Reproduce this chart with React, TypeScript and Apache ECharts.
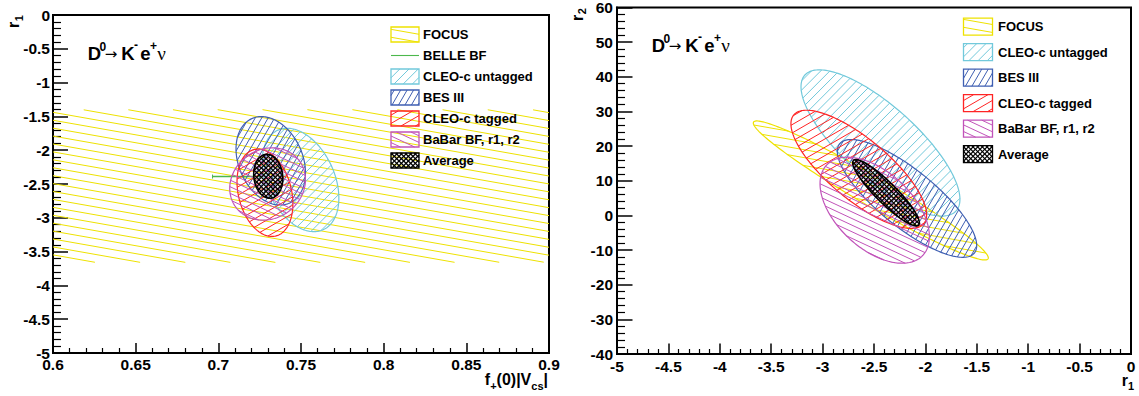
import React, { useEffect, useRef } from 'react';
import * as echarts from 'echarts';

// ---------------- DATA ----------------
// Left panel: f+(0)|Vcs| (x) vs r1 (y); 1-sigma contours: centre, sigma_x, sigma_y, correlation
const leftNames = ['FOCUS', 'CLEO-c untagged', 'BES III', 'CLEO-c tagged', 'BaBar BF, r1, r2', 'Average'];
const leftCx = [0.75, 0.7497, 0.7317, 0.7282, 0.7298, 0.7302];
const leftCy = [-2.53, -2.44, -2.157, -2.63, -2.5, -2.386];
const leftSx = [2.0, 0.0232, 0.021, 0.0169, 0.0229, 0.0088];
const leftSy = [1.13, 0.765, 0.654, 0.646, 0.535, 0.325];
const leftRho = [0, -0.35, -0.27, -0.25, 0.12, -0.1];
// BELLE BF: horizontal bar in f+(0)|Vcs|
const belleF = [0.6965, 0.727];
const belleR1 = [-2.39, -2.39];

// Right panel: r1 (x) vs r2 (y)
const rightNames = ['FOCUS', 'CLEO-c untagged', 'BES III', 'CLEO-c tagged', 'BaBar BF, r1, r2', 'Average'];
const rightCx = [-2.531, -2.437, -2.179, -2.648, -2.493, -2.383];
const rightCy = [7.2, 20.9, 4.9, 13.3, 1.5, 6.54];
const rightSx = [1.143, 0.773, 0.678, 0.66, 0.532, 0.324];
const rightSy = [20.06, 21.1, 17.0, 17.05, 15.3, 9.57];
const rightRho = [-0.97, -0.77, -0.8, -0.77, -0.5, -0.905];

const leftLegend = ['FOCUS', 'BELLE BF', 'CLEO-c untagged', 'BES III', 'CLEO-c tagged', 'BaBar BF, r1, r2', 'Average'];
const rightLegend = ['FOCUS', 'CLEO-c untagged', 'BES III', 'CLEO-c tagged', 'BaBar BF, r1, r2', 'Average'];

// axis ranges / tick steps
const leftX = { min: 0.6, max: 0.9, step: 0.05 };
const leftY = { min: -5, max: 0, step: 0.5 };
const rightX = { min: -5, max: 0, step: 0.5 };
const rightY = { min: -40, max: 60, step: 10 };

// ---------------- STYLES ----------------
type HS = { color: string; angles: number[]; spacing: number; lw: number; border: number };
const HATCH: Record<string, HS> = {
  'FOCUS': { color: '#eee200', angles: [-10], spacing: 7.8, lw: 1, border: 1.2 },
  'CLEO-c untagged': { color: '#72c9db', angles: [45], spacing: 6.5, lw: 1, border: 1.2 },
  'BES III': { color: '#3f5fb2', angles: [60], spacing: 5.6, lw: 1, border: 1.2 },
  'CLEO-c tagged': { color: '#ff2424', angles: [30], spacing: 7.2, lw: 1, border: 1.2 },
  'BaBar BF, r1, r2': { color: '#c153b9', angles: [-25], spacing: 6, lw: 1, border: 1.2 },
  'Average': { color: '#000000', angles: [45, -45], spacing: 3.3, lw: 1.2, border: 1.6 },
};
const GREEN = '#4cb84c';
const FONT = '"Liberation Sans", Arial, Helvetica, sans-serif';

function hatchLines(pts: number[][], angleDeg: number, spacing: number): number[][] {
  const a = (angleDeg * Math.PI) / 180;
  const d = [Math.cos(a), -Math.sin(a)];
  const n = [Math.sin(a), Math.cos(a)];
  const proj = pts.map((p) => p[0] * n[0] + p[1] * n[1]);
  let mn = Infinity;
  let mx = -Infinity;
  proj.forEach((v) => {
    mn = Math.min(mn, v);
    mx = Math.max(mx, v);
  });
  const out: number[][] = [];
  const N = pts.length;
  for (let k = Math.ceil(mn / spacing); k <= Math.floor(mx / spacing); k++) {
    const c = k * spacing;
    const hits: number[][] = [];
    for (let i = 0; i < N; i++) {
      const j = (i + 1) % N;
      const a1 = proj[i] - c;
      const b1 = proj[j] - c;
      if ((a1 <= 0 && b1 > 0) || (a1 > 0 && b1 <= 0)) {
        const t = a1 / (a1 - b1);
        hits.push([pts[i][0] + t * (pts[j][0] - pts[i][0]), pts[i][1] + t * (pts[j][1] - pts[i][1])]);
      }
    }
    if (hits.length >= 2) {
      hits.sort((p, q) => p[0] * d[0] + p[1] * d[1] - (q[0] * d[0] + q[1] * d[1]));
      const p = hits[0];
      const q = hits[hits.length - 1];
      out.push([p[0], p[1], q[0], q[1]]);
    }
  }
  return out;
}

function hatchEls(pts: number[][], st: HS) {
  const els: any[] = [];
  st.angles.forEach((ang) => {
    hatchLines(pts, ang, st.spacing).forEach((s) => {
      els.push({
        type: 'line',
        shape: { x1: s[0], y1: s[1], x2: s[2], y2: s[3] },
        style: { stroke: st.color, lineWidth: st.lw },
      });
    });
  });
  return els;
}

function makeEllipseRender(name: string, drawBorder: boolean) {
  const st = HATCH[name];
  return (_params: any, api: any) => {
    const cx = api.value(0);
    const cy = api.value(1);
    const sx = api.value(2);
    const sy = api.value(3);
    const rho = api.value(4);
    const k = Math.sqrt(1 - rho * rho);
    const pts: number[][] = [];
    const N = 200;
    for (let i = 0; i < N; i++) {
      const t = (2 * Math.PI * i) / N;
      pts.push(api.coord([cx + sx * Math.cos(t), cy + sy * (rho * Math.cos(t) + k * Math.sin(t))]));
    }
    const children = hatchEls(pts, st);
    if (drawBorder) {
      children.push({
        type: 'polygon',
        shape: { points: pts },
        style: { fill: 'none', stroke: st.color, lineWidth: st.border },
      });
    }
    return { type: 'group', children };
  };
}

function ellipseSeries(
  names: string[], cx: number[], cy: number[], sx: number[], sy: number[], rho: number[],
  axis: number, noBorder: number[],
) {
  return names.map((nm, i) => ({
    type: 'custom',
    name: nm,
    xAxisIndex: axis,
    yAxisIndex: axis,
    clip: true,
    silent: true,
    z: 2 + i,
    data: [[cx[i], cy[i], sx[i], sy[i], rho[i]]],
    encode: { x: 0, y: 1 },
    renderItem: makeEllipseRender(nm, noBorder.indexOf(i) < 0),
  }));
}

function axisCommon(r: { min: number; max: number; step: number }, grid: number, tickLen: number, minorLen: number, margin: number) {
  return {
    type: 'value',
    gridIndex: grid,
    min: r.min,
    max: r.max,
    interval: r.step,
    axisLine: { show: true, onZero: false, lineStyle: { color: '#000', width: 2 } },
    axisTick: { show: true, inside: true, length: tickLen, lineStyle: { color: '#000', width: 1.5 } },
    minorTick: { show: true, splitNumber: 5, length: minorLen, lineStyle: { color: '#000', width: 1.2 } },
    splitLine: { show: false },
    minorSplitLine: { show: false },
    axisLabel: { color: '#000', fontSize: 15.5, fontWeight: 'bold', fontFamily: FONT, margin },
  };
}

let measureCtx: CanvasRenderingContext2D | null = null;
function tw(text: string, size: number, weight = 'bold', family = FONT) {
  if (!measureCtx) measureCtx = document.createElement('canvas').getContext('2d');
  if (!measureCtx) return text.length * size * 0.55;
  measureCtx.font = `${weight} ${size}px ${family}`;
  return measureCtx.measureText(text).width;
}

function txt(text: string, x: number, y: number, size: number, opts: any = {}) {
  return {
    type: 'text',
    x,
    y,
    z: 100,
    silent: true,
    style: {
      text,
      fill: '#000',
      fontSize: size,
      fontWeight: opts.weight || 'bold',
      fontFamily: opts.family || FONT,
      align: opts.align || 'left',
      textAlign: opts.align || 'left',
      verticalAlign: 'middle',
      textVerticalAlign: 'middle',
    },
  };
}

// horizontal compound title with subscripts; pieces: [text, isSub]
function compound(pieces: [string, boolean][], rightX: number, yMain: number, yOffSub: number, size: number, subSize: number) {
  const widths = pieces.map(([t, sub]) => tw(t, sub ? subSize : size));
  const total = widths.reduce((a, b) => a + b, 0);
  let x = rightX - total;
  const els: any[] = [];
  pieces.forEach(([t, sub], i) => {
    els.push(txt(t, x, sub ? yMain + yOffSub : yMain, sub ? subSize : size));
    x += widths[i];
  });
  return els;
}

function rotatedTitle(main: string, sub: string, gx: number, gy: number) {
  const w = tw(main, 16);
  return {
    type: 'group',
    x: gx,
    y: gy,
    rotation: Math.PI / 2,
    z: 100,
    children: [txt(main, 0, 0, 16), txt(sub, w + 0.5, 5, 11)],
  };
}

function decayTitle(ox: number, oy: number) {
  // ox, oy: left edge of "D" and baseline
  return [
    txt('D', ox, oy - 7, 18.5),
    txt('0', ox + 11.8, oy - 13.5, 12),
    txt('\u2192', ox + 17, oy - 6.5, 15, { weight: 'normal', family: '"DejaVu Sans", sans-serif' }),
    txt('K', ox + 33.5, oy - 7, 18.5),
    txt('-', ox + 46.2, oy - 15, 12),
    txt('e', ox + 52.5, oy - 7, 18.5),
    txt('+', ox + 62.3, oy - 14.5, 12),
    txt('\u03bd', ox + 69.5, oy - 6.5, 19, { weight: 'normal', family: '"Liberation Serif", "Times New Roman", serif' }),
  ];
}

function legend(names: string[], x: number, y0: number, step: number, w: number, h: number, textX: number) {
  const els: any[] = [];
  names.forEach((nm, i) => {
    const yc = y0 + i * step;
    if (nm === 'BELLE BF') {
      els.push({ type: 'line', z: 100, silent: true, shape: { x1: x, y1: yc, x2: x + w, y2: yc }, style: { stroke: GREEN, lineWidth: 1.1 } });
    } else {
      const st = HATCH[nm];
      const y = yc - h / 2;
      const pts = [[x, y], [x + w, y], [x + w, y + h], [x, y + h]];
      hatchEls(pts, st).forEach((e) => els.push({ ...e, z: 100, silent: true }));
      els.push({
        type: 'rect', z: 100, silent: true,
        shape: { x, y, width: w, height: h },
        style: { fill: 'none', stroke: st.color, lineWidth: 1.3 },
      });
    }
    els.push(txt(nm, textX, yc, 13));
  });
  return els;
}

function buildOption() {
  const series: any[] = [];
  const leftSeries = ellipseSeries(leftNames, leftCx, leftCy, leftSx, leftSy, leftRho, 0, [0]);
  series.push(leftSeries[0]);
  series.push({
    type: 'custom',
    name: 'BELLE BF',
    xAxisIndex: 0,
    yAxisIndex: 0,
    clip: true,
    silent: true,
    z: 2,
    data: [[belleF[0], belleR1[0], belleF[1], belleR1[1]]],
    encode: { x: 0, y: 1 },
    renderItem: (_p: any, api: any) => {
      const a = api.coord([api.value(0), api.value(1)]);
      const b = api.coord([api.value(2), api.value(3)]);
      return {
        type: 'group',
        children: [
          { type: 'line', shape: { x1: a[0], y1: a[1], x2: b[0], y2: b[1] }, style: { stroke: GREEN, lineWidth: 1.4 } },
          { type: 'line', shape: { x1: a[0], y1: a[1] - 2, x2: a[0], y2: a[1] + 2 }, style: { stroke: GREEN, lineWidth: 1 } },
        ],
      };
    },
  });
  leftSeries.slice(1).forEach((s) => series.push(s));
  ellipseSeries(rightNames, rightCx, rightCy, rightSx, rightSy, rightRho, 1, []).forEach((s) => series.push(s));

  const graphics: any[] = [];
  legend(leftLegend, 391, 34.5, 21, 28, 15, 423).forEach((e) => graphics.push(e));
  legend(rightLegend, 963.5, 26.7, 25.5, 29, 17, 998).forEach((e) => graphics.push(e));
  decayTitle(87.7, 60).forEach((e) => graphics.push(e));
  decayTitle(651.7, 52).forEach((e) => graphics.push(e));
  graphics.push(rotatedTitle('r', '1', 13.5, 28));
  graphics.push(rotatedTitle('r', '2', 577, 21));
  compound([['f', false], ['+', true], ['(0)|V', false], ['cs', true], ['|', false]], 548, 379, 7, 16, 11).forEach((e) => graphics.push(e));
  compound([['r', false], ['1', true]], 1134, 380, 6, 16, 11).forEach((e) => graphics.push(e));

  const gridStyle = { show: true, borderColor: '#000', borderWidth: 2, backgroundColor: 'rgba(0,0,0,0)', containLabel: false, outerBoundsMode: 'none' };
  return {
    animation: false,
    backgroundColor: '#ffffff',
    grid: [
      { left: 53, top: 15, width: 496, height: 338, ...gridStyle },
      { left: 617, top: 7.5, width: 514, height: 346.5, ...gridStyle },
    ],
    xAxis: [axisCommon(leftX, 0, 10, 5, 3), axisCommon(rightX, 1, 10.5, 5, 4)],
    yAxis: [axisCommon(leftY, 0, 15, 8, 3), axisCommon(rightY, 1, 15.5, 8, 4)],
    series,
    graphic: { elements: graphics },
  };
}

export default function App() {
  const ref = useRef<HTMLDivElement>(null);
  useEffect(() => {
    if (!ref.current) return;
    const chart = echarts.init(ref.current, undefined, { renderer: 'svg' });
    chart.setOption(buildOption() as any);
    return () => chart.dispose();
  }, []);
  return (
    <div
      ref={ref}
      style={{ position: 'fixed', left: 0, top: 0, width: 1139, height: 396, background: '#fff' }}
    />
  );
}
